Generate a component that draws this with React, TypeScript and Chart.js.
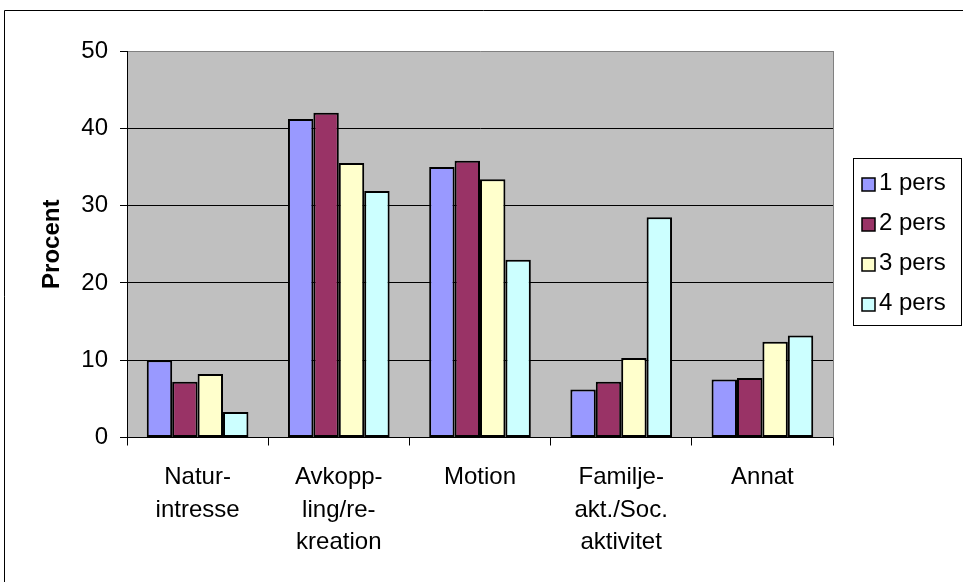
import React, { useEffect, useRef } from "react";
import { Chart, registerables } from "chart.js";

Chart.register(...registerables);

const categories: string[][] = [
  ["Natur-", "intresse"],
  ["Avkopp-", "ling/re-", "kreation"],
  ["Motion"],
  ["Familje-", "akt./Soc.", "aktivitet"],
  ["Annat"],
];

const seriesNames = ["1 pers", "2 pers", "3 pers", "4 pers"];
const pers1 = [10.0, 41.2, 35.0, 6.2, 7.5];
const pers2 = [7.2, 42.0, 35.8, 7.2, 7.7];
const pers3 = [8.2, 35.5, 33.4, 10.3, 12.4];
const pers4 = [3.3, 31.9, 23.0, 28.5, 13.2];
const seriesColors = ["#9999FF", "#993366", "#FFFFCC", "#CCFFFF"];

const yTicks = [0, 10, 20, 30, 40, 50];

const FONT = "'Liberation Sans', Arial, Helvetica, sans-serif";

const framePlugin = {
  id: "framePlugin",
  beforeDraw(chart: any) {
    const { ctx, chartArea } = chart;
    ctx.save();
    ctx.fillStyle = "#ffffff";
    ctx.fillRect(0, 0, chart.width, chart.height);
    ctx.fillStyle = "#C0C0C0";
    ctx.fillRect(chartArea.left, chartArea.top, chartArea.right - chartArea.left, chartArea.bottom - chartArea.top);
    ctx.strokeStyle = "#000000";
    ctx.lineWidth = 1;
    ctx.beginPath();
    ctx.moveTo(4.5, chart.height);
    ctx.lineTo(4.5, 10.5);
    ctx.lineTo(chart.width, 10.5);
    ctx.stroke();
    ctx.restore();
  },
  beforeDatasetsDraw(chart: any) {
    const { ctx, chartArea } = chart;
    ctx.save();
    ctx.strokeStyle = "#808080";
    ctx.lineWidth = 1;
    ctx.beginPath();
    ctx.moveTo(Math.round(chartArea.right) + 0.5, chartArea.top);
    ctx.lineTo(Math.round(chartArea.right) + 0.5, chartArea.bottom);
    ctx.stroke();
    ctx.restore();
  },
  afterDraw(chart: any) {
    const { ctx } = chart;
    ctx.save();
    ctx.strokeStyle = "#000000";
    ctx.lineWidth = 1;
    ctx.strokeRect(853.5, 158.5, 108, 167);
    ctx.font = `24px ${FONT}`;
    ctx.textBaseline = "alphabetic";
    ctx.textAlign = "left";
    chart.data.datasets.forEach((ds: any, i: number) => {
      const baseY = 190 + i * 40;
      ctx.fillStyle = ds.backgroundColor;
      ctx.fillRect(862, baseY - 12, 13, 13);
      ctx.strokeStyle = "#000";
      ctx.lineWidth = 1.5;
      ctx.strokeRect(862, baseY - 12, 13, 13);
      ctx.fillStyle = "#000";
      ctx.fillText(ds.label, 879, baseY);
    });
    ctx.restore();
  },
};

export default function App() {
  const ref = useRef<HTMLCanvasElement | null>(null);

  useEffect(() => {
    if (!ref.current) return;
    const data = [pers1, pers2, pers3, pers4];
    const chart = new Chart(ref.current, {
      type: "bar",
      data: {
        labels: categories,
        datasets: seriesNames.map((name, i) => ({
          label: name,
          data: data[i],
          backgroundColor: seriesColors[i],
          borderColor: "#000000",
          borderWidth: 2,
          borderSkipped: false,
          categoryPercentage: 0.72,
          barPercentage: 1.0,
        })),
      },
      options: {
        animation: false,
        responsive: false,
        devicePixelRatio: 1,
        layout: { padding: { left: 0, top: 51, right: 130, bottom: 0 } },
        plugins: {
          legend: { display: false },
          tooltip: { enabled: false },
        },
        scales: {
          x: {
            grid: {
              display: true,
              drawOnChartArea: false,
              drawTicks: true,
              tickLength: 8,
              color: "#000000",
              offset: true,
            },
            border: { color: "#000000", width: 1 },
            ticks: {
              color: "#000000",
              font: { family: FONT, size: 24, lineHeight: 1.35 },
              padding: 16,
              maxRotation: 0,
              autoSkip: false,
            },
            afterFit: (s: any) => {
              s.height = 144.5;
            },
          },
          y: {
            min: 0,
            max: 50,
            afterBuildTicks: (s: any) => {
              s.ticks = yTicks.map((v) => ({ value: v }));
            },
            grid: {
              color: (c: any) => (c.tick && c.tick.value === 50 ? "#808080" : "#000000"),
              tickColor: "#000000",
              tickLength: 7,
              drawTicks: true,
            },
            border: { color: "#000000", width: 1 },
            ticks: {
              color: "#000000",
              font: { family: FONT, size: 24 },
              padding: 12,
            },
            title: {
              display: true,
              text: "Procent",
              color: "#000000",
              font: { family: FONT, size: 24, weight: "bold" },
              padding: { top: 38, bottom: 0 },
            },
            afterFit: (s: any) => {
              s.width = 127;
            },
          },
        },
      },
      plugins: [framePlugin],
    });
    return () => chart.destroy();
  }, []);

  return (
    <div style={{ position: "absolute", left: 0, top: 0, width: 963, height: 582 }}>
      <canvas ref={ref} width={963} height={582} style={{ display: "block", width: 963, height: 582 }} />
    </div>
  );
}
